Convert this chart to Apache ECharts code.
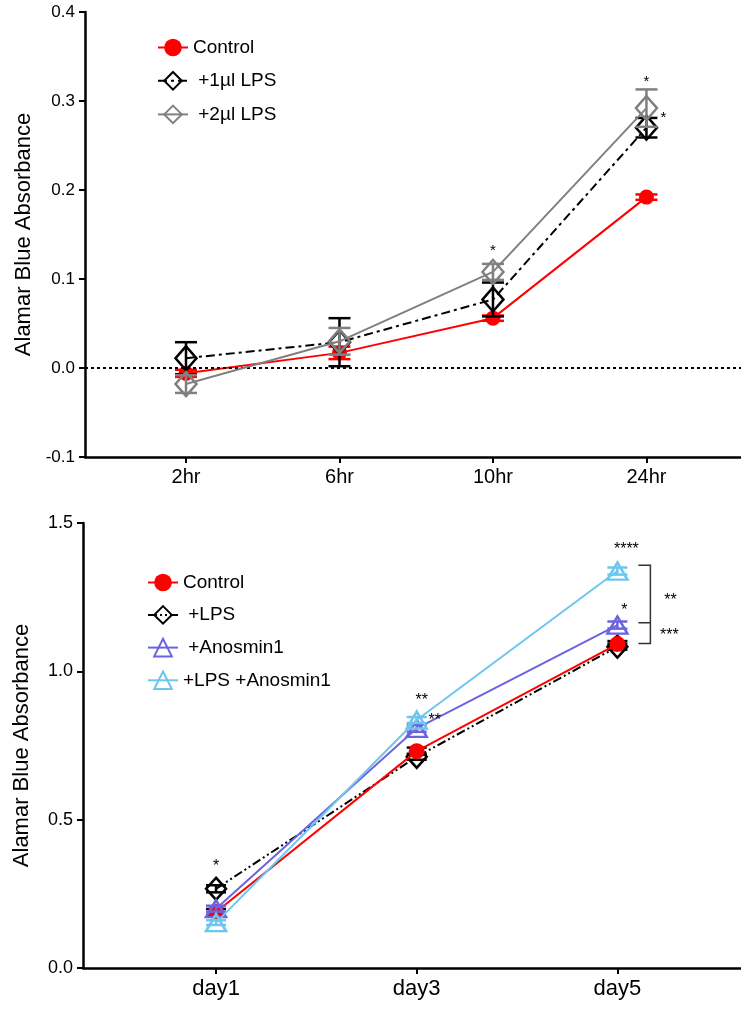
<!DOCTYPE html>
<html>
<head>
<meta charset="utf-8">
<script src="https://cdn.jsdelivr.net/npm/echarts@6/dist/echarts.min.js"></script>
<style>
    html, body { margin: 0; padding: 0; background: #fff; }
    #chart { width: 741px; height: 1009px; }
</style>
</head>
<body>
<div id="chart"></div>
<script>
    // ---- top panel: hours ----
    const hours = ['2hr', '6hr', '10hr', '24hr'];
    const controlTop = [-0.006, 0.017, 0.056, 0.192];
    const controlTopErr = [0.004, 0.007, 0.003, 0.003];
    const lps1 = [0.011, 0.029, 0.077, 0.270];
    const lps1Err = [0.018, 0.027, 0.019, 0.011];
    const lps2 = [-0.018, 0.030, 0.108, 0.292];
    const lps2Err = [0.010, 0.015, 0.009, 0.021];
    const topTicks = [-0.1, 0.0, 0.1, 0.2, 0.3, 0.4];
    // star marks: [category index, value, text]
    const topStars = [[2, 0.136, '*'], [3, 0.326, '*'], [3, 0.285, '*']];

    // ---- bottom panel: days ----
    const days = ['day1', 'day3', 'day5'];
    const controlBot = [0.189, 0.731, 1.092];
    const controlBotErr = [0.010, 0.012, 0.010];
    const lps = [0.267, 0.712, 1.083];
    const lpsErr = [0.012, 0.010, 0.010];
    const anosmin = [0.200, 0.808, 1.156];
    const anosminErr = [0.010, 0.012, 0.012];
    const lpsAnosmin = [0.153, 0.836, 1.338];
    const lpsAnosminErr = [0.008, 0.010, 0.012];
    const bottomTicks = [0.0, 0.5, 1.0, 1.5];
    const bottomStars = [[0, 0.356, '*'], [1, 0.914, '**'], [1, 0.849, '**'],
        [2, 1.425, '****'], [2, 1.218, '*'], [2, 1.251, '**'], [2, 1.133, '***']];
    const bracketLevels = [1.358, 1.164, 1.094];

    // 样式
    const FONT = 'Liberation Sans, Arial, sans-serif';
    const RED = '#ff0000', GREY = '#808080', PURPLE = '#6b63e0', SKY = '#6cc6ee';
    const topStarDx = [0, 0, 17];
    const bottomStarDx = [0, 5, 18, 9, 7, 53, 52];

    let myChart = echarts.init(document.getElementById('chart'));

    function errorBars(values, errs, color, gi, width, cap, z) {
        return {
            type: 'custom', xAxisIndex: gi, yAxisIndex: gi, silent: true, z: z,
            data: values.map((v, i) => [i, v - errs[i], v + errs[i]]),
            encode: {x: 0, y: [1, 2]},
            renderItem: (params, api) => {
                const lo = api.coord([api.value(0), api.value(1)]);
                const hi = api.coord([api.value(0), api.value(2)]);
                const s = {stroke: color, lineWidth: width};
                return {
                    type: 'group', children: [
                        {type: 'line', shape: {x1: lo[0], y1: lo[1], x2: hi[0], y2: hi[1]}, style: s},
                        {type: 'line', shape: {x1: hi[0] - cap, y1: hi[1], x2: hi[0] + cap, y2: hi[1]}, style: s},
                        {type: 'line', shape: {x1: lo[0] - cap, y1: lo[1], x2: lo[0] + cap, y2: lo[1]}, style: s}
                    ]
                };
            }
        };
    }

    function stars(list, dx, gi, size) {
        return {
            type: 'custom', xAxisIndex: gi, yAxisIndex: gi, silent: true, z: 20,
            data: list.map(d => [d[0], d[1]]),
            renderItem: (params, api) => {
                const p = api.coord([api.value(0), api.value(1)]);
                return {
                    type: 'text',
                    style: {
                        text: list[params.dataIndex][2], x: p[0] + dx[params.dataIndex], y: p[1] + 4,
                        align: 'center', verticalAlign: 'middle',
                        font: size + 'px ' + FONT, fill: '#000'
                    }
                };
            }
        };
    }

    function lineSeries(name, data, gi, color, symbol, size, dash, filled, z) {
        return {
            name: name, type: 'line', xAxisIndex: gi, yAxisIndex: gi, z: z,
            data: data.map((v, i) => [i, v]),
            symbol: symbol, symbolSize: size, showSymbol: true,
            itemStyle: {color: filled ? color : 'rgba(255,255,255,0)', borderColor: color, borderWidth: filled ? 0 : 2.5},
            lineStyle: {color: color, width: 2, type: dash},
            emphasis: {disabled: true}
        };
    }

    const xAxisBase = (min, max, cats, size) => ({
        type: 'value', min: min, max: max,
        axisLine: {show: true, onZero: false, lineStyle: {color: '#000', width: 2.5}},
        axisTick: {show: true, length: 6, lineStyle: {color: '#000', width: 2}, customValues: cats.map((c, i) => i)},
        axisLabel: {
            customValues: cats.map((c, i) => i), margin: 10,
            formatter: v => cats[Math.round(v)] || '',
            fontSize: size, color: '#000', fontFamily: FONT
        },
        splitLine: {show: false}
    });

    const yAxisBase = (ticks, size) => ({
        type: 'value', min: ticks[0], max: ticks[ticks.length - 1],
        interval: ticks[1] - ticks[0],
        name: 'Alamar Blue Absorbance', nameLocation: 'middle', nameGap: 50,
        nameTextStyle: {fontSize: 22, color: '#000', fontFamily: FONT},
        axisLine: {show: true, onZero: false, lineStyle: {color: '#000', width: 2.5}},
        axisTick: {show: true, length: 6, lineStyle: {color: '#000', width: 2}},
        axisLabel: {formatter: v => v.toFixed(1), fontSize: size, color: '#000', fontFamily: FONT, margin: 10},
        splitLine: {show: false}
    });

    const bracket = {
        type: 'custom', xAxisIndex: 1, yAxisIndex: 1, silent: true, z: 15,
        data: [[2, bracketLevels[0], bracketLevels[1], bracketLevels[2]]],
        renderItem: (params, api) => {
            const a = api.coord([2, api.value(1)]);
            const b = api.coord([2, api.value(2)]);
            const c = api.coord([2, api.value(3)]);
            const x1 = a[0] + 21, x2 = a[0] + 33;
            return {
                type: 'polyline',
                shape: {points: [[x1, a[1]], [x2, a[1]], [x2, c[1]], [x1, c[1]], [x2, c[1]], [x2, b[1]], [x1, b[1]]]},
                style: {stroke: '#333', lineWidth: 1.5, fill: null}
            };
        }
    };

    const topSeries = [
        lineSeries('Control', controlTop, 0, RED, 'circle', 15, 'solid', true, 3),
        lineSeries(' +1µl LPS', lps1, 0, '#000', 'diamond', [21, 24], [9, 4, 3, 4], false, 4),
        lineSeries(' +2µl LPS', lps2, 0, GREY, 'diamond', [21, 24], 'solid', false, 5),
        errorBars(controlTop, controlTopErr, RED, 0, 2.5, 11, 3),
        errorBars(lps1, lps1Err, '#000', 0, 2.5, 11, 4),
        errorBars(lps2, lps2Err, GREY, 0, 2.5, 11, 5),
        stars(topStars, topStarDx, 0, 15)
    ];
    topSeries[0].markLine = {
        silent: true, symbol: 'none', label: {show: false},
        lineStyle: {color: '#000', width: 2, type: [3, 3]},
        data: [{yAxis: 0}]
    };

    const bottomSeries = [
        lineSeries(' +LPS', lps, 1, '#000', 'diamond', [20, 22], [9, 3, 2, 3, 2, 3], false, 3),
        lineSeries('Control', controlBot, 1, RED, 'circle', 16, 'solid', true, 4),
        lineSeries(' +Anosmin1', anosmin, 1, PURPLE, 'triangle', [20, 17], 'solid', false, 5),
        lineSeries('+LPS +Anosmin1', lpsAnosmin, 1, SKY, 'triangle', [20, 17], 'solid', false, 6),
        errorBars(lps, lpsErr, '#000', 1, 2.5, 10, 3),
        errorBars(controlBot, controlBotErr, '#000', 1, 2.5, 10, 4),
        errorBars(anosmin, anosminErr, PURPLE, 1, 2.5, 10, 5),
        errorBars(lpsAnosmin, lpsAnosminErr, SKY, 1, 2.5, 10, 6),
        stars(bottomStars, bottomStarDx, 1, 16),
        bracket
    ];

    myChart.setOption({
        animation: false,
        backgroundColor: '#fff',
        grid: [
            {left: 85, top: 12, height: 445, right: 0},
            {left: 83, top: 523, height: 445, right: 0}
        ],
        xAxis: [
            Object.assign(xAxisBase(-0.658, 3.616, hours, 20), {gridIndex: 0}),
            Object.assign(xAxisBase(-0.663, 2.616, days, 22), {gridIndex: 1})
        ],
        yAxis: [
            Object.assign(yAxisBase(topTicks, 17), {gridIndex: 0}),
            Object.assign(yAxisBase(bottomTicks, 18), {gridIndex: 1})
        ],
        legend: [
            {
                data: ['Control', ' +1µl LPS', ' +2µl LPS'],
                orient: 'vertical', left: 152, top: 33, itemGap: 14,
                itemWidth: 30, itemHeight: 22, selectedMode: false,
                textStyle: {fontSize: 19, color: '#000', fontFamily: FONT}
            },
            {
                data: ['Control', ' +LPS', ' +Anosmin1', '+LPS +Anosmin1'],
                orient: 'vertical', left: 142, top: 568, itemGap: 13.1,
                itemWidth: 30, itemHeight: 22, selectedMode: false,
                textStyle: {fontSize: 19, color: '#000', fontFamily: FONT}
            }
        ],
        series: topSeries.concat(bottomSeries)
    });
</script>
</body>
</html>
